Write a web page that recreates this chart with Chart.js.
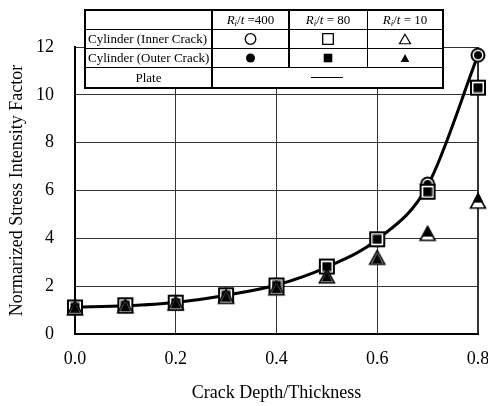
<!DOCTYPE html>
<html>
<head>
<meta charset="utf-8">
<script src="https://cdn.jsdelivr.net/npm/chart.js@4.4.1/dist/chart.umd.min.js"></script>
<style>
  html, body { margin: 0; padding: 0; background: #fff; }
  #wrap { width: 488px; height: 406px; }
</style>
</head>
<body>
<div id="wrap"><canvas id="chart" width="488" height="406"></canvas></div>
<script>
// Crack depth ratio a/t
const crackDepth = [0.0, 0.1, 0.2, 0.3, 0.4, 0.5, 0.6, 0.7, 0.8];

// Flat plate solution (solid curve)
const plate = [1.12, 1.18, 1.32, 1.62, 2.05, 2.80, 3.95, 6.20, 11.66];

// Cylinder, Ri/t = 400
const innerRt400 = [1.12, 1.19, 1.32, 1.62, 2.05, 2.80, 3.95, 6.27, 11.66];
const outerRt400 = [1.12, 1.19, 1.32, 1.62, 2.05, 2.80, 3.95, 6.27, 11.66];

// Cylinder, Ri/t = 80
const innerRt80 = [1.11, 1.20, 1.31, 1.62, 2.03, 2.82, 3.96, 5.95, 10.30];
const outerRt80 = [1.11, 1.20, 1.31, 1.62, 2.03, 2.82, 3.96, 5.95, 10.30];

// Cylinder, Ri/t = 10
const innerRt10 = [1.09, 1.17, 1.29, 1.57, 1.92, 2.42, 3.20, 4.20, 5.55];
const outerRt10 = [1.10, 1.17, 1.30, 1.57, 1.93, 2.42, 3.17, 4.30, 5.72];

// Axis ticks
const xTicks = [0.0, 0.2, 0.4, 0.6, 0.8];
const yTicks = [0, 2, 4, 6, 8, 10, 12];

// Key table text
const ratioColumns = ['=400', '= 80', '= 10'];
const rowLabels = ['Cylinder (Inner Crack)', 'Cylinder (Outer Crack)', 'Plate'];

const SERIF = "'Liberation Serif', 'Times New Roman', serif";

// Marker shapes: white-filled outline for inner cracks, solid black for outer cracks
function drawMarker(ctx, kind, filled, cx, cy, s) {
  ctx.save();
  ctx.beginPath();
  if (kind === 'circle') {
    ctx.arc(cx, cy, s.r, 0, Math.PI * 2);
  } else if (kind === 'square') {
    ctx.rect(cx - s.half, cy - s.half, s.half * 2, s.half * 2);
  } else {
    ctx.moveTo(cx, cy - s.h / 2);
    ctx.lineTo(cx + s.w / 2, cy + s.h / 2);
    ctx.lineTo(cx - s.w / 2, cy + s.h / 2);
    ctx.closePath();
  }
  if (filled) {
    ctx.fillStyle = '#000';
    ctx.fill();
  } else {
    ctx.fillStyle = '#fff';
    ctx.fill();
    ctx.lineWidth = s.lw;
    ctx.lineJoin = 'miter';
    ctx.strokeStyle = '#000';
    ctx.stroke();
  }
  ctx.restore();
}

function markerImage(kind, filled, s, size) {
  const c = document.createElement('canvas');
  c.width = size; c.height = size;
  drawMarker(c.getContext('2d'), kind, filled, size / 2, size / 2, s);
  return c;
}

const plotMarkers = {
  circleOpen:   markerImage('circle', false, { r: 6.5, lw: 2 }, 18),
  circleSolid:  markerImage('circle', true,  { r: 4 }, 10),
  squareOpen:   markerImage('square', false, { half: 7, lw: 2 }, 18),
  squareSolid:  markerImage('square', true,  { half: 4.5 }, 10),
  triangleOpen: markerImage('triangle', false, { w: 15, h: 13.5, lw: 1.6 }, 20),
  triangleSolid: markerImage('triangle', true, { w: 11, h: 11 }, 12)
};

const toPoints = ys => crackDepth.map((x, i) => ({ x: x, y: ys[i] }));

function markerSet(label, values, img) {
  return {
    label: label,
    data: toPoints(values),
    showLine: false,
    pointStyle: img,
    pointRadius: 8,
    clip: false
  };
}

// Earlier entries are painted on top
const datasets = [
  markerSet('Outer Crack, Ri/t = 10', outerRt10, plotMarkers.triangleSolid),
  markerSet('Inner Crack, Ri/t = 10', innerRt10, plotMarkers.triangleOpen),
  markerSet('Outer Crack, Ri/t = 80', outerRt80, plotMarkers.squareSolid),
  markerSet('Inner Crack, Ri/t = 80', innerRt80, plotMarkers.squareOpen),
  markerSet('Outer Crack, Ri/t = 400', outerRt400, plotMarkers.circleSolid),
  markerSet('Inner Crack, Ri/t = 400', innerRt400, plotMarkers.circleOpen),
  {
    label: 'Plate',
    data: toPoints(plate),
    showLine: true,
    borderColor: '#000',
    borderWidth: 3,
    pointRadius: 0,
    cubicInterpolationMode: 'monotone',
    clip: false
  }
];

// Key table drawn in the upper part of the plot
const keyTable = {
  id: 'keyTable',
  afterDraw(chart) {
    const ctx = chart.ctx;
    const L = 85, T = 10, R = 443, B = 88;
    const cols = [L, 212, 289, 367, R];
    const rows = [T, 29.5, 48.5, 67.5, B];
    ctx.save();
    ctx.fillStyle = '#fff';
    ctx.fillRect(L, T, R - L, B - T);
    ctx.strokeStyle = '#000';

    // row separators
    ctx.lineWidth = 1;
    ctx.beginPath();
    for (let i = 1; i <= 3; i++) {
      ctx.moveTo(L, rows[i]); ctx.lineTo(R, rows[i]);
    }
    ctx.moveTo(cols[3] + 0.5, T); ctx.lineTo(cols[3] + 0.5, rows[3]);
    ctx.stroke();

    ctx.lineWidth = 2;
    ctx.beginPath();
    ctx.moveTo(cols[1], T); ctx.lineTo(cols[1], B);
    ctx.moveTo(cols[2], T); ctx.lineTo(cols[2], rows[3]);
    ctx.stroke();
    ctx.strokeRect(L, T, R - L, B - T);

    const midY = r => (rows[r] + rows[r + 1]) / 2;
    const midX = c => (cols[c] + cols[c + 1]) / 2;

    // header: Ri/t values
    ctx.fillStyle = '#000';
    ctx.textBaseline = 'middle';
    ratioColumns.forEach((tail, k) => {
      const parts = [
        { t: 'R', f: 'italic 13px ' + SERIF, dy: 0 },
        { t: 'i', f: 'italic 9px ' + SERIF, dy: 3 },
        { t: '/', f: '13px ' + SERIF, dy: 0 },
        { t: 't', f: 'italic 13px ' + SERIF, dy: 0 },
        { t: ' ' + tail, f: '13px ' + SERIF, dy: 0 }
      ];
      let w = 0;
      parts.forEach(p => { ctx.font = p.f; p.w = ctx.measureText(p.t).width; w += p.w; });
      let x = midX(k + 1) - w / 2;
      ctx.textAlign = 'left';
      parts.forEach(p => { ctx.font = p.f; ctx.fillText(p.t, x, midY(0) + 1 + p.dy); x += p.w; });
    });

    // row labels
    ctx.font = '13px ' + SERIF;
    ctx.textAlign = 'left';
    ctx.fillText(rowLabels[0], 88, midY(1) + 0.5);
    ctx.fillText(rowLabels[1], 88, midY(2) + 0.5);
    ctx.textAlign = 'center';
    ctx.fillText(rowLabels[2], midX(0), midY(3) + 0.5);

    // marker samples
    const kinds = ['circle', 'square', 'triangle'];
    const openSize = { circle: { r: 5.3, lw: 1.3 }, square: { half: 5.3, lw: 1.3 }, triangle: { w: 11, h: 9.5, lw: 1.2 } };
    const solidSize = { circle: { r: 4.5 }, square: { half: 4.3 }, triangle: { w: 8.5, h: 8 } };
    kinds.forEach((k, i) => {
      drawMarker(ctx, k, false, midX(i + 1), midY(1), openSize[k]);
      drawMarker(ctx, k, true, midX(i + 1), midY(2), solidSize[k]);
    });

    // plate line sample
    ctx.lineWidth = 1;
    ctx.beginPath();
    ctx.moveTo(311, 77.5); ctx.lineTo(343, 77.5);
    ctx.stroke();
    ctx.restore();
  }
};

new Chart(document.getElementById('chart'), {
  type: 'scatter',
  data: { datasets: datasets },
  plugins: [keyTable],
  options: {
    responsive: false,
    animation: false,
    devicePixelRatio: 1,
    layout: { padding: { top: 47, right: 10, left: 0, bottom: 0 } },
    plugins: { legend: { display: false }, tooltip: { enabled: false } },
    scales: {
      x: {
        type: 'linear',
        min: 0, max: 0.8,
        afterBuildTicks: s => { s.ticks = xTicks.map(v => ({ value: v })); },
        afterFit: s => { s.height = 72; s.paddingLeft = 0; s.paddingRight = 0; },
        ticks: {
          callback: v => Number(v).toFixed(1),
          font: { family: SERIF, size: 18 },
          color: '#000',
          padding: 14,
          maxRotation: 0,
          autoSkip: false
        },
        grid: {
          color: '#333',
          lineWidth: c => (c.tick && Math.abs(c.tick.value - 0.8) < 1e-9) ? 2 : 1,
          drawTicks: false
        },
        border: { display: true, color: '#000', width: 2 },
        title: {
          display: true,
          text: 'Crack Depth/Thickness',
          font: { family: SERIF, size: 18 },
          color: '#000',
          padding: { top: 0, bottom: 2 }
        }
      },
      y: {
        type: 'linear',
        min: 0, max: 12,
        afterBuildTicks: s => { s.ticks = yTicks.map(v => ({ value: v })); },
        afterFit: s => { s.width = 75; s.paddingTop = 0; s.paddingBottom = 0; },
        ticks: {
          callback: v => String(v),
          font: { family: SERIF, size: 18 },
          color: '#000',
          padding: 21
        },
        grid: { color: '#333', lineWidth: 1, drawTicks: false },
        border: { display: true, color: '#000', width: 2 },
        title: {
          display: true,
          text: 'Normarized Stress Intensity Factor',
          font: { family: SERIF, size: 18 },
          color: '#000',
          padding: { top: 6, bottom: 0 }
        }
      }
    }
  }
});
</script>
</body>
</html>
